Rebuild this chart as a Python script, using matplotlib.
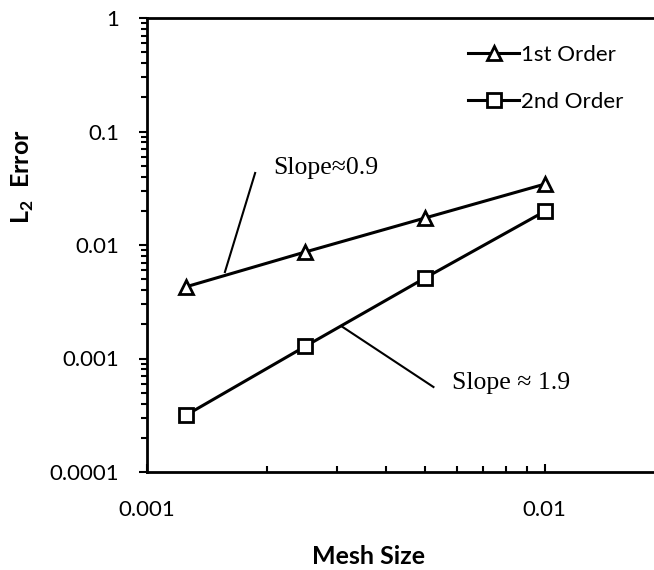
import numpy as np
import matplotlib.pyplot as plt
from matplotlib.ticker import LogLocator, FixedLocator, NullFormatter

# convergence data
mesh_size = [0.00125, 0.0025, 0.005, 0.01]
err_first = [0.00427, 0.00868, 0.0173, 0.0344]
err_second = [0.000315, 0.00128, 0.00512, 0.0198]
series_labels = ['1st Order', '2nd Order']
x_ticks = [0.001, 0.01]
x_ticklabels = ['0.001', '0.01']
y_ticks = [0.0001, 0.001, 0.01, 0.1, 1]
y_ticklabels = ['0.0001', '0.001', '0.01', '0.1', '1']

plt.rcParams['font.family'] = ['Lato', 'DejaVu Sans']

W, H = 654, 570
fig = plt.figure(figsize=(W / 100, H / 100), dpi=100)
ax = fig.add_axes([147 / W, 1 - 472 / H, 1 - 147 / W, (472 - 18) / H])

ax.set_xscale('log')
ax.set_yscale('log')

ax.plot(mesh_size, err_first, color='black', lw=2.2, marker='^', ms=10,
        mfc='white', mec='black', mew=2, label=series_labels[0])
ax.plot(mesh_size, err_second, color='black', lw=2.2, marker='s', ms=10,
        mfc='white', mec='black', mew=2, label=series_labels[1])

ax.set_xlim(0.001, 0.01882)
ax.set_ylim(0.0001, 1)

for s in ['left', 'bottom', 'top']:
    ax.spines[s].set_linewidth(2)
ax.spines['right'].set_visible(False)

ax.xaxis.set_major_locator(FixedLocator(x_ticks))
ax.set_xticklabels(x_ticklabels)
ax.xaxis.set_minor_locator(LogLocator(base=10, subs=np.arange(2, 10)))
ax.xaxis.set_minor_formatter(NullFormatter())
ax.yaxis.set_major_locator(FixedLocator(y_ticks))
ax.set_yticklabels(y_ticklabels)
ax.yaxis.set_minor_locator(LogLocator(base=10, subs=np.arange(2, 10)))
ax.yaxis.set_minor_formatter(NullFormatter())

ax.tick_params(axis='x', which='major', direction='in', length=6, width=1.5,
               labelsize=16, pad=20)
ax.tick_params(axis='x', which='minor', direction='in', length=4.5, width=1.5)
ax.tick_params(axis='y', which='major', direction='out', length=6, width=1.5,
               labelsize=16, pad=14)
ax.tick_params(axis='y', which='minor', direction='out', length=4.5, width=1.5)

# slope annotations with leader lines
ax.plot([0.00187, 0.00157], [0.0431, 0.00578], color='black', lw=1.5)
ax.text(0.002076, 0.0477, 'Slope≈0.9', family='Liberation Serif', fontsize=18.5,
        va='center', ha='left')
ax.plot([0.0031, 0.00525], [0.0019, 0.000561], color='black', lw=1.5)
ax.text(0.00583, 0.000608, 'Slope ≈ 1.9', family='Liberation Serif', fontsize=18.5,
        va='center', ha='left')

ax.legend(loc='upper left', bbox_to_anchor=(468 / W, 1 - 45 / H),
          bbox_transform=fig.transFigure, frameon=False, fontsize=16,
          handlelength=2.3, handletextpad=0.1, labelspacing=1.2,
          borderpad=0, borderaxespad=0)

fig.text(369 / W, 1 - 557 / H, 'Mesh Size', fontsize=18, fontweight='bold',
         ha='center', va='center')
fig.text(23 / W, 1 - 177 / H, r'L$_{\mathregular{2}}$  Error', fontsize=18,
         fontweight='bold', rotation=90, ha='center', va='center')

fig.savefig('out.png', dpi=100)
